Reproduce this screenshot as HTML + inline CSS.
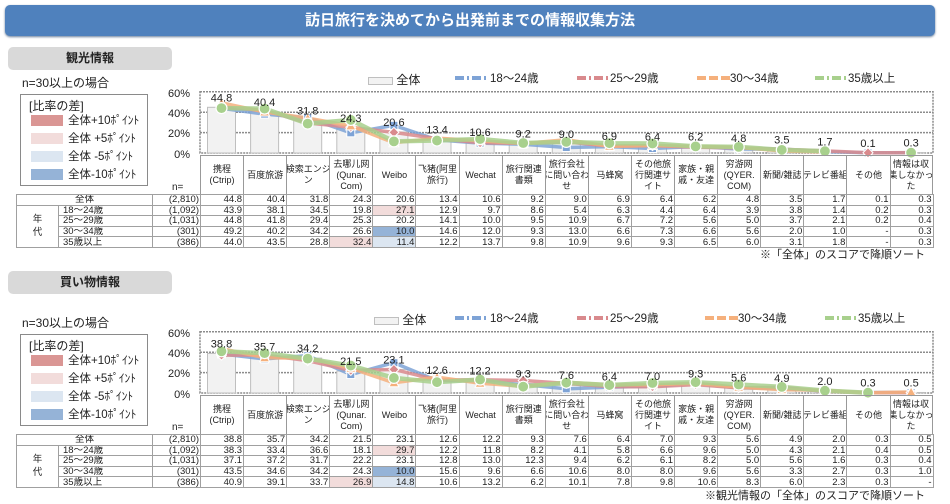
<!DOCTYPE html>
<html><head><meta charset="utf-8">
<style>
*{margin:0;padding:0;box-sizing:border-box}
body{width:950px;height:504px;background:#fff;position:relative;overflow:hidden;font-family:"Liberation Sans","Noto Sans CJK JP",sans-serif;color:#222}
.abs{position:absolute}
.title{left:5px;top:5px;width:930px;height:31px;background:#4f81bd;border-radius:5px;color:#fff;font-weight:bold;font-size:15px;text-align:center;line-height:31px;box-shadow:0 1px 2px #6a7f9a}
.sec{position:absolute;left:0;width:950px;height:264px}
.stitle{left:8px;width:164px;height:23px;background:#d9d9d9;border-radius:5px;font-weight:bold;font-size:12px;text-align:center;line-height:23px}
.nlab{left:22px;top:74px;font-size:12px}
.leg{left:20px;top:94px;width:128px;height:92px;border:1.5px solid #8a8a8a;font-size:11.5px}
.leg .h{position:absolute;left:8px;top:2px;font-size:12px}
.leg .sw{position:absolute;left:10px;width:32px;height:11px}
.leg .t{position:absolute;left:47px;font-size:11.5px;white-space:nowrap}
.hdr{left:200px;top:155px;height:39px;display:flex;border-top:1px solid #999}
.hdr div{width:43.1px;border-left:1px solid #999;font-size:9px;line-height:11px;display:flex;align-items:center;justify-content:center;text-align:center;white-space:nowrap;overflow:hidden}
.hdr div:last-child{border-right:1px solid #999}
table{position:absolute;left:16px;top:194px;border-collapse:collapse;table-layout:fixed;font-size:9.5px}
td{border:1px solid #a0a0a0;height:10.6px;line-height:9px;padding:0 1px;text-align:right;white-space:nowrap;overflow:hidden}
td.l{text-align:left;padding-left:4px}
td.c{text-align:center}
.p{background:#f2dcdb}.b{background:#95b3d7}.lb{background:#dce6f1}
.foot{right:25px;font-size:11px}
.lgrow{top:71px;font-size:12px;white-space:nowrap}
svg{position:absolute;left:0;top:0}
</style></head><body>
<div class="abs title">訪日旅行を決めてから出発前までの情報収集方法</div>

<!-- SECTION 1 -->
<div class="sec" style="top:0">
<div class="abs stitle" style="top:47px">観光情報</div>
<div class="abs nlab">n=30以上の場合</div>
<div class="abs leg"><div class="h">[比率の差]</div>
<div class="sw" style="top:20px;background:#da9694"></div><div class="t" style="top:17px">全体+10ﾎﾟｲﾝﾄ</div>
<div class="sw" style="top:38px;background:#f2dcdb"></div><div class="t" style="top:35px">全体 +5ﾎﾟｲﾝﾄ</div>
<div class="sw" style="top:56px;background:#dce6f1"></div><div class="t" style="top:53px">全体 -5ﾎﾟｲﾝﾄ</div>
<div class="sw" style="top:74px;background:#95b3d7"></div><div class="t" style="top:71px">全体-10ﾎﾟｲﾝﾄ</div></div>
<div class="abs lgrow" style="left:368px"><span style="display:inline-block;width:25px;height:8px;background:#f2f2f2;border:1.5px solid #bfbfbf;vertical-align:middle"></span> 全体</div>
<svg width="950" height="264" class="ch" data-i="0">
<g class="grid"></g><g class="bars"></g><g class="lines"></g>
<g class="lgd"></g>
<g font-size="11" fill="#222" text-anchor="end"><text x="190" y="97">60%</text><text x="190" y="117">40%</text><text x="190" y="137">20%</text><text x="190" y="158">0%</text></g>
<g font-size="11" fill="#222" text-anchor="middle" class="lbls"><text>44.8</text><text>40.4</text><text>31.8</text><text>24.3</text><text>20.6</text><text>13.4</text><text>10.6</text><text>9.2</text><text>9.0</text><text>6.9</text><text>6.4</text><text>6.2</text><text>4.8</text><text>3.5</text><text>1.7</text><text>0.1</text><text>0.3</text></g>
<g font-size="11.5" fill="#222"><text x="490" y="82">18～24歳</text><text x="610" y="82">25～29歳</text><text x="730" y="82">30～34歳</text><text x="848" y="82">35歳以上</text></g>
<text x="172" y="190" font-size="10" fill="#222">n=</text>
</svg>
<div class="abs hdr"><div>携程<br>(Ctrip)</div><div>百度旅游</div><div>検索エンジ<br>ン</div><div>去哪儿网<br>(Qunar.<br>Com)</div><div>Weibo</div><div>飞猪(阿里<br>旅行)</div><div>Wechat</div><div>旅行関連<br>書類</div><div>旅行会社<br>に問い合わ<br>せ</div><div>马蜂窝</div><div>その他旅<br>行関連サ<br>イト</div><div>家族・親<br>戚・友達</div><div>穷游网<br>(QYER.<br>COM)</div><div>新聞/雑誌</div><div>テレビ番組</div><div>その他</div><div>情報は収<br>集しなかっ<br>た</div></div>
<table>
<colgroup><col style="width:42px"><col style="width:94px"><col style="width:48px"><col span="17" style="width:43.1px"></colgroup>
<tr><td colspan="2" class="c">全体</td><td>(2,810)</td><td>44.8</td><td>40.4</td><td>31.8</td><td>24.3</td><td>20.6</td><td>13.4</td><td>10.6</td><td>9.2</td><td>9.0</td><td>6.9</td><td>6.4</td><td>6.2</td><td>4.8</td><td>3.5</td><td>1.7</td><td>0.1</td><td>0.3</td></tr>
<tr><td rowspan="4" class="c" style="line-height:13px">年<br>代</td><td class="l">18～24歳</td><td>(1,092)</td><td>43.9</td><td>38.1</td><td>34.5</td><td>19.8</td><td class="p">27.1</td><td>12.9</td><td>9.7</td><td>8.6</td><td>5.4</td><td>6.3</td><td>4.4</td><td>6.4</td><td>3.9</td><td>3.8</td><td>1.4</td><td>0.2</td><td>0.3</td></tr>
<tr><td class="l">25～29歳</td><td>(1,031)</td><td>44.8</td><td>41.8</td><td>29.4</td><td>25.3</td><td>20.2</td><td>14.1</td><td>10.0</td><td>9.5</td><td>10.9</td><td>6.7</td><td>7.2</td><td>5.6</td><td>5.0</td><td>3.7</td><td>2.1</td><td>0.2</td><td>0.4</td></tr>
<tr><td class="l">30～34歳</td><td>(301)</td><td>49.2</td><td>40.2</td><td>34.2</td><td>26.6</td><td class="b">10.0</td><td>14.6</td><td>12.0</td><td>9.3</td><td>13.0</td><td>6.6</td><td>7.3</td><td>6.6</td><td>5.6</td><td>2.0</td><td>1.0</td><td>-</td><td>0.3</td></tr>
<tr><td class="l">35歳以上</td><td>(386)</td><td>44.0</td><td>43.5</td><td>28.8</td><td class="p">32.4</td><td class="lb">11.4</td><td>12.2</td><td>13.7</td><td>9.8</td><td>10.9</td><td>9.6</td><td>9.3</td><td>6.5</td><td>6.0</td><td>3.1</td><td>1.8</td><td>-</td><td>0.3</td></tr>
</table>
<div class="abs foot" style="top:246px">※「全体」のスコアで降順ソート</div>
</div>

<!-- SECTION 2 -->
<div class="sec" style="top:240px">
<div class="abs stitle" style="top:31px">買い物情報</div>
<div class="abs nlab">n=30以上の場合</div>
<div class="abs leg"><div class="h">[比率の差]</div>
<div class="sw" style="top:20px;background:#da9694"></div><div class="t" style="top:17px">全体+10ﾎﾟｲﾝﾄ</div>
<div class="sw" style="top:38px;background:#f2dcdb"></div><div class="t" style="top:35px">全体 +5ﾎﾟｲﾝﾄ</div>
<div class="sw" style="top:56px;background:#dce6f1"></div><div class="t" style="top:53px">全体 -5ﾎﾟｲﾝﾄ</div>
<div class="sw" style="top:74px;background:#95b3d7"></div><div class="t" style="top:71px">全体-10ﾎﾟｲﾝﾄ</div></div>
<div class="abs lgrow" style="left:374px"><span style="display:inline-block;width:25px;height:8px;background:#f2f2f2;border:1.5px solid #bfbfbf;vertical-align:middle"></span> 全体</div>
<svg width="950" height="264" class="ch" data-i="1">
<g class="grid"></g><g class="bars"></g><g class="lines"></g>
<g class="lgd"></g>
<g font-size="11" fill="#222" text-anchor="end"><text x="190" y="97">60%</text><text x="190" y="117">40%</text><text x="190" y="137">20%</text><text x="190" y="158">0%</text></g>
<g font-size="11" fill="#222" text-anchor="middle" class="lbls"><text>38.8</text><text>35.7</text><text>34.2</text><text>21.5</text><text>23.1</text><text>12.6</text><text>12.2</text><text>9.3</text><text>7.6</text><text>6.4</text><text>7.0</text><text>9.3</text><text>5.6</text><text>4.9</text><text>2.0</text><text>0.3</text><text>0.5</text></g>
<g font-size="11.5" fill="#222"><text x="490" y="82">18～24歳</text><text x="610" y="82">25～29歳</text><text x="738" y="82">30～34歳</text><text x="858" y="82">35歳以上</text></g>
<text x="172" y="190" font-size="10" fill="#222">n=</text>
</svg>
<div class="abs hdr"><div>携程<br>(Ctrip)</div><div>百度旅游</div><div>検索エンジ<br>ン</div><div>去哪儿网<br>(Qunar.<br>Com)</div><div>Weibo</div><div>飞猪(阿里<br>旅行)</div><div>Wechat</div><div>旅行関連<br>書類</div><div>旅行会社<br>に問い合わ<br>せ</div><div>马蜂窝</div><div>その他旅<br>行関連サ<br>イト</div><div>家族・親<br>戚・友達</div><div>穷游网<br>(QYER.<br>COM)</div><div>新聞/雑誌</div><div>テレビ番組</div><div>その他</div><div>情報は収<br>集しなかっ<br>た</div></div>
<table>
<colgroup><col style="width:42px"><col style="width:94px"><col style="width:48px"><col span="17" style="width:43.1px"></colgroup>
<tr><td colspan="2" class="c">全体</td><td>(2,810)</td><td>38.8</td><td>35.7</td><td>34.2</td><td>21.5</td><td>23.1</td><td>12.6</td><td>12.2</td><td>9.3</td><td>7.6</td><td>6.4</td><td>7.0</td><td>9.3</td><td>5.6</td><td>4.9</td><td>2.0</td><td>0.3</td><td>0.5</td></tr>
<tr><td rowspan="4" class="c" style="line-height:13px">年<br>代</td><td class="l">18～24歳</td><td>(1,092)</td><td>38.3</td><td>33.4</td><td>36.6</td><td>18.1</td><td class="p">29.7</td><td>12.2</td><td>11.8</td><td>8.2</td><td>4.1</td><td>5.8</td><td>6.6</td><td>9.6</td><td>5.0</td><td>4.3</td><td>2.1</td><td>0.4</td><td>0.5</td></tr>
<tr><td class="l">25～29歳</td><td>(1,031)</td><td>37.1</td><td>37.2</td><td>31.7</td><td>22.2</td><td>23.1</td><td>12.8</td><td>13.0</td><td>12.3</td><td>9.4</td><td>6.2</td><td>6.1</td><td>8.2</td><td>5.0</td><td>5.6</td><td>1.6</td><td>0.3</td><td>0.4</td></tr>
<tr><td class="l">30～34歳</td><td>(301)</td><td>43.5</td><td>34.6</td><td>34.2</td><td>24.3</td><td class="b">10.0</td><td>15.6</td><td>9.6</td><td>6.6</td><td>10.6</td><td>8.0</td><td>8.0</td><td>9.6</td><td>5.6</td><td>3.3</td><td>2.7</td><td>0.3</td><td>1.0</td></tr>
<tr><td class="l">35歳以上</td><td>(386)</td><td>40.9</td><td>39.1</td><td>33.7</td><td class="p">26.9</td><td class="lb">14.8</td><td>10.6</td><td>13.2</td><td>6.2</td><td>10.1</td><td>7.8</td><td>9.8</td><td>10.6</td><td>8.3</td><td>6.0</td><td>2.3</td><td>0.3</td><td>-</td></tr>
</table>
<div class="abs foot" style="top:247px">※観光情報の「全体」のスコアで降順ソート</div>
</div>

<script>
var D=[
[[44.8,40.4,31.8,24.3,20.6,13.4,10.6,9.2,9.0,6.9,6.4,6.2,4.8,3.5,1.7,0.1,0.3],
[43.9,38.1,34.5,19.8,27.1,12.9,9.7,8.6,5.4,6.3,4.4,6.4,3.9,3.8,1.4,0.2,0.3],
[44.8,41.8,29.4,25.3,20.2,14.1,10.0,9.5,10.9,6.7,7.2,5.6,5.0,3.7,2.1,0.2,0.4],
[49.2,40.2,34.2,26.6,10.0,14.6,12.0,9.3,13.0,6.6,7.3,6.6,5.6,2.0,1.0,null,0.3],
[44.0,43.5,28.8,32.4,11.4,12.2,13.7,9.8,10.9,9.6,9.3,6.5,6.0,3.1,1.8,null,0.3]],
[[38.8,35.7,34.2,21.5,23.1,12.6,12.2,9.3,7.6,6.4,7.0,9.3,5.6,4.9,2.0,0.3,0.5],
[38.3,33.4,36.6,18.1,29.7,12.2,11.8,8.2,4.1,5.8,6.6,9.6,5.0,4.3,2.1,0.4,0.5],
[37.1,37.2,31.7,22.2,23.1,12.8,13.0,12.3,9.4,6.2,6.1,8.2,5.0,5.6,1.6,0.3,0.4],
[43.5,34.6,34.2,24.3,10.0,15.6,9.6,6.6,10.6,8.0,8.0,9.6,5.6,3.3,2.7,0.3,1.0],
[40.9,39.1,33.7,26.9,14.8,10.6,13.2,6.2,10.1,7.8,9.8,10.6,8.3,6.0,2.3,0.3,null]]];
var NS="http://www.w3.org/2000/svg";
function el(p,t,a){var e=document.createElementNS(NS,t);for(var k in a)e.setAttribute(k,a[k]);p.appendChild(e);return e;}
var C=["#7ea3d6","#d98a8d","#f5b07c","#a8d08d"];
var DA=["9 3 2 3","9 3 2 3","9 3","9 3 2 3"];
function X(i){return 221.5+43.1*i;}
function Y(v){return 153-1.02*v;}
function mark(g,t,x,y,c){
 if(t==0)el(g,"rect",{x:x-4,y:y-4,width:8,height:8,fill:c,stroke:"#fff","stroke-width":1});
 else if(t==1)el(g,"path",{d:"M"+x+" "+(y-5)+"L"+(x+5)+" "+y+"L"+x+" "+(y+5)+"L"+(x-5)+" "+y+"Z",fill:c,stroke:"#fff","stroke-width":1});
 else if(t==2)el(g,"path",{d:"M"+x+" "+(y-5)+"L"+(x+5)+" "+(y+4)+"L"+(x-5)+" "+(y+4)+"Z",fill:c,stroke:"#fff","stroke-width":1});
 else el(g,"circle",{cx:x,cy:y,r:5.5,fill:c,stroke:"#fff","stroke-width":1.2});
}
document.querySelectorAll("svg.ch").forEach(function(s){
 var d=D[+s.getAttribute("data-i")];
 var gr=s.querySelector(".grid"),br=s.querySelector(".bars"),ln=s.querySelector(".lines"),lg=s.querySelector(".lgd");
 [20,40].forEach(function(v){el(gr,"line",{x1:200,x2:933,y1:Y(v),y2:Y(v),stroke:"#8c8c8c","stroke-width":1.5,"stroke-dasharray":"2 1"});});
 el(gr,"rect",{x:200,y:Y(60),width:733,height:1.02*60,fill:"none",stroke:"#8c8c8c","stroke-width":1.5,"stroke-dasharray":"2 1"});
 for(var i=0;i<17;i++){var v=d[0][i];el(br,"rect",{x:X(i)-14,y:Y(v),width:28,height:153-Y(v),fill:"#f2f2f2",stroke:"#bfbfbf","stroke-width":1});}
 for(var k=1;k<5;k++){
  var pts=[];
  for(var i=0;i<17;i++){if(d[k][i]==null){if(pts.length>1)el(ln,"polyline",{points:pts.join(" "),fill:"none",stroke:C[k-1],"stroke-width":k==4?4.5:3.5,"stroke-opacity":0.85,"stroke-linejoin":"round"});pts=[];continue;}pts.push(X(i)+","+Y(d[k][i]));}
  if(pts.length>1)el(ln,"polyline",{points:pts.join(" "),fill:"none",stroke:C[k-1],"stroke-width":k==4?4.5:3.5,"stroke-opacity":0.85,"stroke-linejoin":"round"});
 }
 for(var k=1;k<5;k++)for(var i=0;i<17;i++){if(d[k][i]!=null)mark(ln,k-1,X(i),Y(d[k][i]),C[k-1]);}
 var lbl=s.querySelectorAll(".lbls text");
 for(var i=0;i<17;i++){lbl[i].setAttribute("x",X(i));lbl[i].setAttribute("y",Y(d[0][i])-6);}
 var lx=s.getAttribute("data-i")=="0"?[455,577,697,815]:[455,577,705,825];
 for(var k=0;k<4;k++)el(lg,"line",{x1:lx[k],x2:lx[k]+33,y1:78,y2:78,stroke:C[k],"stroke-width":4,"stroke-dasharray":DA[k]});
});
</script>
</body></html>
